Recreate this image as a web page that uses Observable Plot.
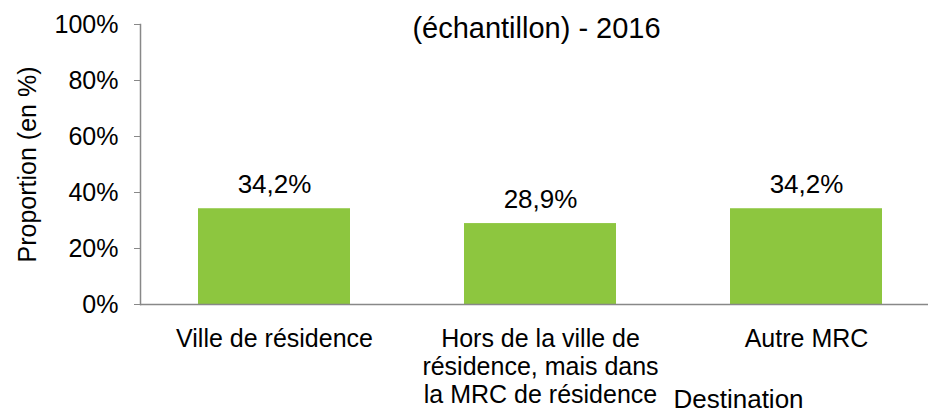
<!DOCTYPE html>
<html>
<head>
<meta charset="utf-8">
<script src="https://cdn.jsdelivr.net/npm/d3@7"></script>
<script src="https://cdn.jsdelivr.net/npm/@observablehq/plot@0.6"></script>
<style>
  html, body { margin: 0; padding: 0; background: #fff; overflow: hidden; }
  #chart svg { font-family: "Liberation Sans", Arial, sans-serif; }
</style>
</head>
<body>
<div id="chart"></div>
<script>
const categories = ["Ville de résidence", "Hors de la ville de résidence, mais dans la MRC de résidence", "Autre MRC"];
const tickLabels = ["Ville de résidence", "Hors de la ville de\nrésidence, mais dans\nla MRC de résidence", "Autre MRC"];
const values = [0.342, 0.289, 0.342];
const valueLabels = ["34,2%", "28,9%", "34,2%"];
const yTicks = [0, 0.2, 0.4, 0.6, 0.8, 1];
const title = "(échantillon) - 2016";
const yLabel = "Proportion (en %)";
const xLabel = "Destination";

const data = categories.map((c, i) => ({cat: c, value: values[i], label: valueLabels[i]}));
const axisColor = "#888888";
const barColor = "#8DC63F";

const chart = Plot.plot({
  width: 928,
  height: 414,
  marginTop: 24,
  marginBottom: 110,
  marginLeft: 140,
  marginRight: 0,
  style: {fontFamily: "'Liberation Sans', Arial, sans-serif", color: "#000", background: "#fff"},
  x: {domain: categories, range: [141, 939], paddingInner: 0.43, paddingOuter: 0.215, axis: null},
  y: {domain: [0, 1], axis: null},
  marks: [
    Plot.barY(data, {x: "cat", y: "value", fill: barColor}),
    Plot.ruleY([0], {stroke: axisColor, strokeWidth: 1.5}),
    Plot.frame({anchor: "left", stroke: axisColor, strokeWidth: 1.5}),
    Plot.axisY({
      ticks: yTicks,
      tickFormat: d3.format(".0%"),
      tickSize: 6,
      tickPadding: 16,
      fontSize: 25,
      stroke: axisColor,
      fill: "#000",
      label: null
    }),
    Plot.axisX({
      tickSize: 0,
      tickPadding: 23,
      fontSize: 25,
      lineHeight: 1.12,
      fill: "#000",
      tickFormat: d => tickLabels[categories.indexOf(d)],
      label: null
    }),
    Plot.text(data, {x: "cat", y: "value", text: "label", dy: -16, lineAnchor: "bottom", fontSize: 26, fill: "#000"}),
    Plot.text([title], {text: d => d, frameAnchor: "top", dx: 2, dy: 13, lineAnchor: "bottom", fontSize: 29, fill: "#000"}),
    Plot.text([yLabel], {text: d => d, frameAnchor: "left", rotate: -90, dx: -113, textAnchor: "middle", lineAnchor: "middle", fontSize: 25, fill: "#000"}),
    Plot.text([xLabel], {text: d => d, frameAnchor: "bottom", dx: 204, dy: 103, lineAnchor: "bottom", fontSize: 26, fill: "#000"})
  ]
});
document.getElementById("chart").appendChild(chart);
</script>
</body>
</html>
